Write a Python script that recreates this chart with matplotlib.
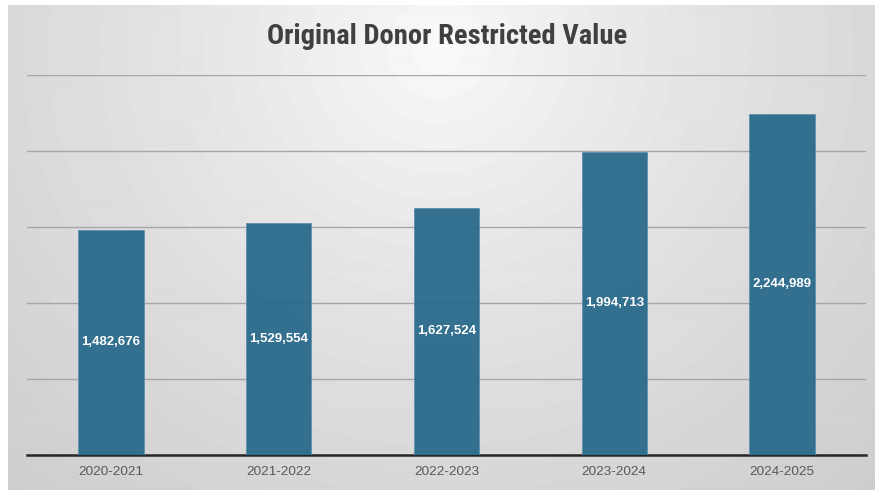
import numpy as np
import matplotlib.pyplot as plt
from matplotlib.ticker import MultipleLocator

years = ["2020-2021", "2021-2022", "2022-2023", "2023-2024", "2024-2025"]
values = [1482676, 1529554, 1627524, 1994713, 2244989]

fig = plt.figure(figsize=(8.75, 4.9), dpi=100)
fig.patch.set_facecolor("white")

# radial grey background, light spot near the top centre
bg = fig.add_axes([8 / 875, 0, 1 - 8 / 875, 1 - 5 / 490], zorder=0)
yy, xx = np.mgrid[0:485, 0:867]
r = np.hypot(xx - 430, (yy - 45) * 1.05)
r = np.floor(r / 26) * 26  # banded rings
shade = np.clip(0.975 - 0.17 * (r / 620) ** 0.8, 0.78, 1)
bg.imshow(shade, cmap="gray", vmin=0, vmax=1, aspect="auto", interpolation="bilinear")
bg.axis("off")

ax = fig.add_axes([27 / 875, 1 - 455 / 490, (866 - 27) / 875, (455 - 75) / 490], zorder=1)
ax.patch.set_alpha(0)

x = np.arange(len(years))
ax.bar(x, values, width=0.39, color="#2a6a8b", alpha=0.95,
       edgecolor="#5a8fab", linewidth=0.6, zorder=3)

for xi, v in zip(x, values):
    ax.text(xi, v / 2, f"{v:,}", ha="center", va="center", color="white",
            fontsize=9.5, fontweight="bold", family="Liberation Sans", zorder=4)

ax.set_xlim(-0.5, 4.5)
ax.set_ylim(0, 2500000)
ax.yaxis.set_major_locator(MultipleLocator(500000))
ax.grid(axis="y", color="#a6a6a6", linewidth=1.0, zorder=1)
ax.set_yticklabels([])
ax.tick_params(axis="y", length=0)
ax.tick_params(axis="x", length=0, pad=8, labelsize=9.7, labelcolor="#595959")
ax.set_xticks(x)
ax.set_xticklabels(years, family="Liberation Sans")
for s in ["top", "right", "left"]:
    ax.spines[s].set_visible(False)
ax.spines["bottom"].set_color("#262626")
ax.spines["bottom"].set_linewidth(1.8)

fig.text(0.511, 1 - 36 / 490, "Original Donor Restricted Value", ha="center", va="center",
         fontsize=20.5, fontweight="bold", color="#404040",
         family=["Roboto Condensed", "Liberation Sans Narrow", "Lato", "DejaVu Sans"])

fig.savefig("out.png", dpi=100)
